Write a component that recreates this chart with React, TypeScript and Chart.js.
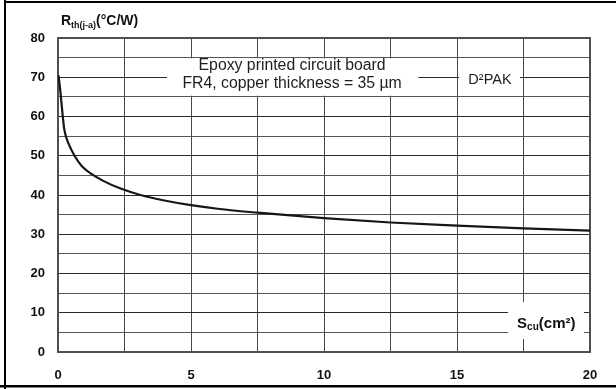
import { useEffect, useRef } from "react";
import { Chart, registerables } from "chart.js";

Chart.register(...registerables);

// Copper area on the board (cm²) and the matching junction-to-ambient resistance (°C/W)
const copperArea = [0.02, 0.08, 0.13, 0.18, 0.24, 0.39, 0.64, 0.89, 1.27, 1.7, 2.33, 3.1, 4, 5, 6, 7.5, 10, 12.5, 15, 17.5, 20];
const rthJunctionAmbient = [70.5, 67, 63.5, 60, 56.6, 53.2, 49.8, 47.4, 45.3, 43.6, 41.7, 40.0, 38.6, 37.4, 36.5, 35.5, 34.1, 33.0, 32.2, 31.5, 30.9];

const xTickLabels = [0, 5, 10, 15, 20];
const yTickLabels = [0, 10, 20, 30, 40, 50, 60, 70, 80];

const boardLines = ["Epoxy printed circuit board", "FR4, copper thickness = 35 µm"];
const packageName = "D²PAK";

const FONT = '"Liberation Sans", Arial, Helvetica, sans-serif';
const W = 616;
const H = 389;

type Seg = { text: string; font: string; dy: number };

function drawRich(ctx: CanvasRenderingContext2D, segs: Seg[], x: number, baseline: number) {
  let cx = x;
  ctx.textBaseline = "alphabetic";
  ctx.textAlign = "left";
  for (const s of segs) {
    ctx.font = s.font;
    ctx.fillText(s.text, cx, baseline + s.dy);
    cx += ctx.measureText(s.text).width;
  }
}

const overlay = {
  id: "overlay",
  beforeDatasetsDraw(chart: any) {
    const { ctx, chartArea: a, scales } = chart;
    const xs = scales.x;
    const ys = scales.y;
    const px = (v: number) => xs.getPixelForValue(v);
    const py = (v: number) => ys.getPixelForValue(v);
    ctx.save();

    // white patches that hide the grid behind the captions
    const patch = (x0: number, x1: number, y0: number, y1: number) => {
      ctx.fillStyle = "#fff";
      ctx.fillRect(px(x0), py(y1), px(x1) - px(x0), py(y0) - py(y1));
    };
    patch(4.1, 13.55, 65.3, 74.8);
    patch(15.08, 17.37, 66.2, 73.4);
    patch(16.92, 19.77, 3.3, 12.7);

    // plot frame
    ctx.strokeStyle = "#505050";
    ctx.lineWidth = 2;
    ctx.strokeRect(a.left, a.top, a.width, a.height);

    // board description
    ctx.fillStyle = "#1e1e1e";
    ctx.font = `15.8px ${FONT}`;
    ctx.textAlign = "center";
    ctx.textBaseline = "middle";
    ctx.fillText(boardLines[0], px(8.8), py(72.9));
    ctx.fillText(boardLines[1], px(8.8), py(68.4));

    // package name
    ctx.font = `14.5px ${FONT}`;
    ctx.fillText(packageName, px(16.24), py(69.2));

    // x-axis quantity
    ctx.fillStyle = "#111";
    drawRich(
      ctx,
      [
        { text: "S", font: `bold 15px ${FONT}`, dy: 0 },
        { text: "cu", font: `bold 10px ${FONT}`, dy: 2 },
        { text: "(cm²)", font: `bold 15px ${FONT}`, dy: 0 },
      ],
      px(17.26),
      py(6.04)
    );

    ctx.restore();
  },
  afterDraw(chart: any) {
    const { ctx, chartArea: a } = chart;
    ctx.save();
    ctx.fillStyle = "#111";
    drawRich(
      ctx,
      [
        { text: "R", font: `bold 14px ${FONT}`, dy: 0 },
        { text: "th(j-a)", font: `bold 9px ${FONT}`, dy: 2.5 },
        { text: "(°C/W)", font: `bold 14px ${FONT}`, dy: 0 },
      ],
      a.left + 3,
      a.top - 13
    );

    // outer frame
    ctx.fillStyle = "#000";
    ctx.fillRect(4, 1, W - 4, 2);
    ctx.fillRect(4, 0, 2, H);
    ctx.fillRect(0, 385, W, 2.5);
    ctx.restore();
  },
};

export default function App() {
  const canvasRef = useRef<HTMLCanvasElement | null>(null);

  useEffect(() => {
    const canvas = canvasRef.current;
    if (!canvas) return;
    const points = copperArea.map((x, i) => ({ x, y: rthJunctionAmbient[i] }));

    const chart = new Chart(canvas, {
      type: "line",
      data: {
        datasets: [
          {
            data: points,
            borderColor: "#161616",
            borderWidth: 2.2,
            pointRadius: 0,
            cubicInterpolationMode: "monotone",
            fill: false,
          },
        ],
      },
      options: {
        responsive: false,
        maintainAspectRatio: false,
        animation: false,
        devicePixelRatio: 1,
        layout: { padding: { left: 0, top: 38, right: 26, bottom: 0 } },
        plugins: {
          legend: { display: false },
          tooltip: { enabled: false },
          title: { display: false },
        },
        scales: {
          x: {
            type: "linear",
            min: 0,
            max: 20,
            border: { display: false },
            grid: { color: "#4a4a4a", lineWidth: 1, drawTicks: false },
            afterFit: (s: any) => {
              s.height = 37;
            },
            ticks: {
              stepSize: 2.5,
              autoSkip: false,
              maxRotation: 0,
              padding: 16,
              color: "#111",
              font: { family: FONT, size: 13, weight: "bold" },
              callback: (v: any) => (xTickLabels.includes(Number(v)) ? String(v) : ""),
            },
          },
          y: {
            type: "linear",
            min: 0,
            max: 80,
            border: { display: false },
            grid: {
              color: (c: any) => (c.tick && c.tick.value % 10 === 0 ? "#2a2a2a" : "#555"),
              lineWidth: 1,
              drawTicks: false,
            },
            afterFit: (s: any) => {
              s.width = 58;
            },
            ticks: {
              stepSize: 5,
              autoSkip: false,
              padding: 13,
              color: "#111",
              font: { family: FONT, size: 13, weight: "bold" },
              callback: (v: any) => (yTickLabels.includes(Number(v)) ? String(v) : ""),
            },
          },
        },
      },
      plugins: [overlay],
    } as any);

    return () => chart.destroy();
  }, []);

  return (
    <div style={{ position: "fixed", left: 0, top: 0, width: W, height: H, background: "#fff" }}>
      <canvas ref={canvasRef} width={W} height={H} style={{ display: "block", width: W, height: H }} />
    </div>
  );
}
